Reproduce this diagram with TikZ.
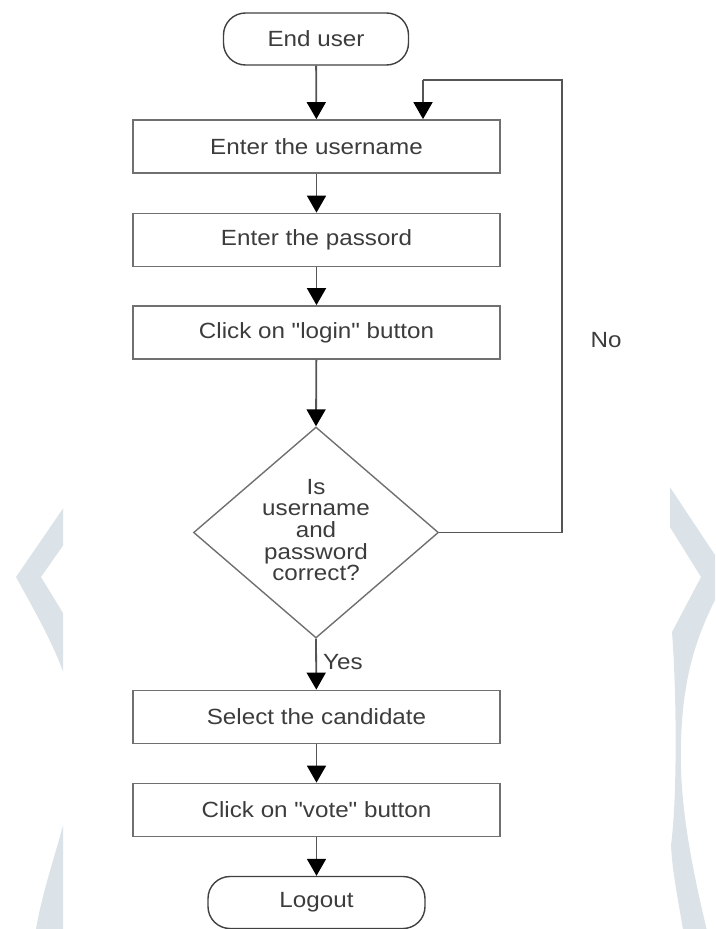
\documentclass[tikz,border=0pt]{standalone}
\usepackage{fontspec}
\setmainfont{Liberation Sans}[FakeStretch=1.1, Ligatures=TeXOff]
\usetikzlibrary{arrows.meta,shapes.geometric}
\definecolor{wm}{RGB}{220,227,232}
\definecolor{boxline}{RGB}{112,112,112}
\definecolor{conline}{RGB}{85,85,85}
\definecolor{txt}{RGB}{60,60,60}
\begin{document}
\begin{tikzpicture}[x=1pt,y=-1pt,
  every node/.style={font=\fontsize{22}{22}\selectfont, text=txt},
  stepbox/.style={draw=boxline, line width=1.8pt, minimum width=367pt, minimum height=53pt, inner sep=0pt},
  term/.style={draw=black!75, line width=1.4pt, rounded corners=22pt, minimum height=52pt, inner sep=0pt},
  conn/.style={draw=conline, line width=1.8pt, -{Triangle[width=19pt,length=17pt,color=black]}},
  plain/.style={draw=conline, line width=1.8pt}]
\useasboundingbox (0,0) rectangle (715,929);
% watermark bands
\begin{scope}
\clip (0,0) rectangle (63,929);
\fill[wm] (110,440) -- (16,577) .. controls (45,630) and (75,680) .. (78,740)
  .. controls (75,810) and (45,870) .. (35,935) -- (130,935)
  .. controls (120,850) and (110,780) .. (100,720) .. controls (90,670) and (75,640) .. (63,613)
  -- (41,577) -- (130,450) -- cycle;
\end{scope}
\begin{scope}
\clip (670,0) rectangle (715,929);
\fill[wm] (650,457) -- (715,555) -- (720,577) -- (715,600)
  .. controls (690,650) and (683,690) .. (681,740)
  .. controls (679,800) and (690,860) .. (708,935) -- (684,935)
  .. controls (678,900) and (672,870) .. (671,845)
  .. controls (677,800) and (677,700) .. (672,632)
  -- (701,577) -- (650,495) -- cycle;
\end{scope}
% nodes
\node[term, minimum width=185pt] (start) at (316,39) {End user};
\node[stepbox] (b1) at (316.5,146.5) {Enter the username};
\node[stepbox] (b2) at (316.5,240) {Enter the passord};
\node[stepbox] (b3) at (316.5,332.5) {Click on "login" button};
\node[draw=boxline, line width=1.4pt, diamond, minimum width=245pt, minimum height=211pt, inner sep=0pt] (d) at (316,532.5) {};
\node[align=center, font=\fontsize{22}{21.7}\selectfont] (dt) at (316,530) {Is\\username\\and\\password\\correct?};
\node[stepbox] (b4) at (316.5,717) {Select the candidate};
\node[stepbox] (b5) at (316.5,810) {Click on "vote" button};
\node[term, minimum width=217pt] (end) at (316.5,902.5) {Logout};
\node[anchor=west, inner sep=0pt] (yes) at (323,662) {Yes};
\node[inner sep=0pt] (no) at (606,340) {No};
\coordinate (c1) at (562,80);
\coordinate (c2) at (423,80);
% connectors
\draw[conn] (start) -- (b1);
\draw[conn] (b1) -- (b2);
\draw[conn] (b2) -- (b3);
\draw[conn] (b3) -- (d.north);
\draw[conn] (d.south) -- (b4);
\draw[conn] (b4) -- (b5);
\draw[conn] (b5) -- (end);
\draw[plain] (d.east) -| (c1) -- (c2);
\draw[conn] (c2) -- (c2 |- b1.north);
\end{tikzpicture}
\end{document}
